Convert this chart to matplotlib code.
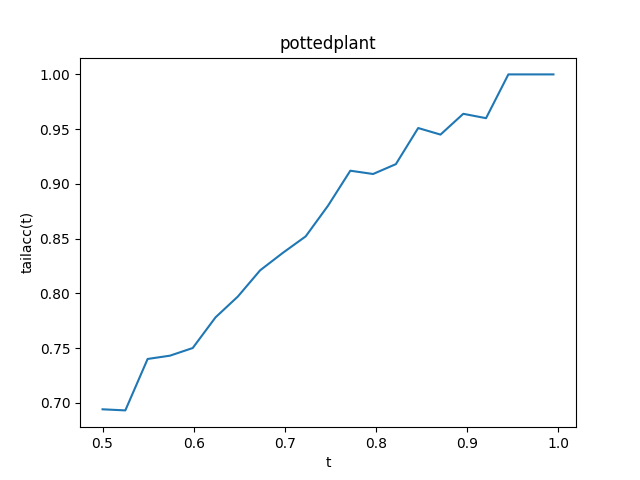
import matplotlib
matplotlib.use("Agg")
import matplotlib.pyplot as plt

t = [0.5, 0.525, 0.5495, 0.574, 0.599, 0.624, 0.6485, 0.673, 0.698, 0.723,
     0.7475, 0.772, 0.797, 0.822, 0.8465, 0.871, 0.896, 0.921, 0.9455, 0.970, 0.995]
tailacc = [0.694, 0.693, 0.740, 0.743, 0.750, 0.778, 0.797, 0.821, 0.837, 0.852,
           0.880, 0.912, 0.909, 0.918, 0.951, 0.945, 0.964, 0.960, 1.0, 1.0, 1.0]

fig = plt.figure(figsize=(6.4, 4.8), dpi=100)
plt.plot(t, tailacc)
plt.title('pottedplant')
plt.xlabel('t')
plt.ylabel('tailacc(t)')
plt.savefig('out.png')
